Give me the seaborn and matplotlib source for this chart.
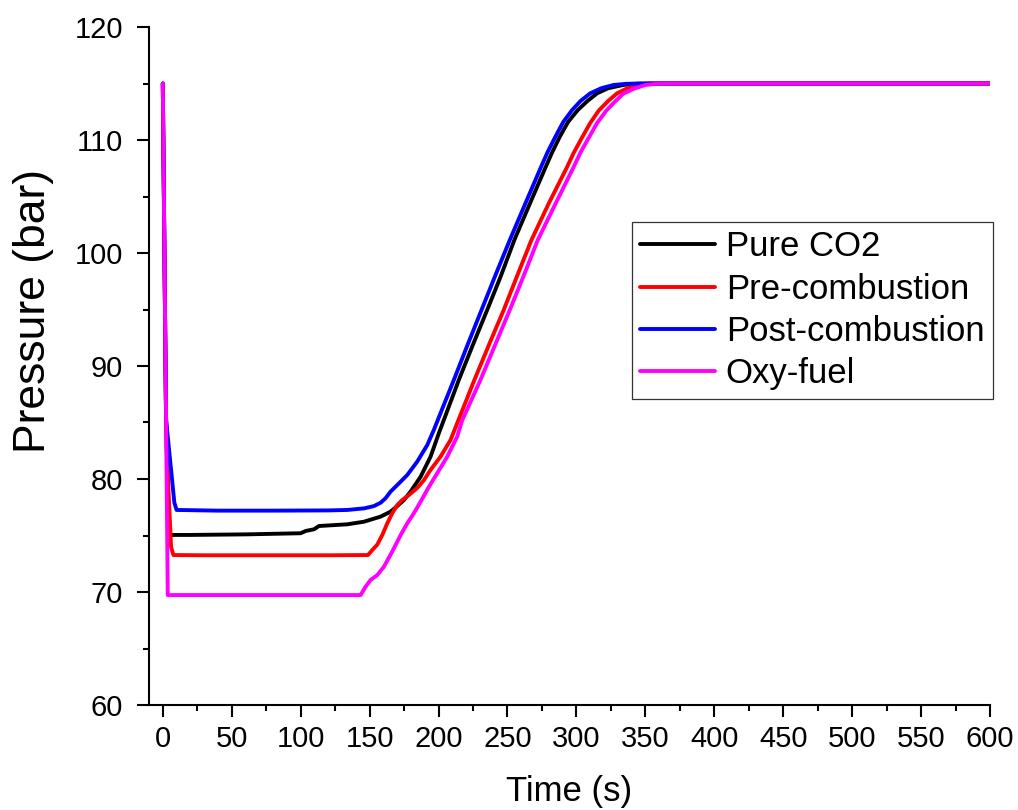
import matplotlib
matplotlib.use("Agg")
import matplotlib.pyplot as plt
from matplotlib.ticker import MultipleLocator
import seaborn as sns

# Pipeline pressure during blowdown and refill for four CO2 stream compositions
time_pure = [0, 2.3, 3.4, 4.1, 20, 60, 100, 103.6, 109.7, 113.3, 133.8, 145.9, 158, 165.2,
             170.1, 174.9, 179.7, 187, 194.2, 200.2, 207, 214.7, 225, 235.3, 245, 255, 266,
             276.8, 282, 288, 294, 301, 308, 315, 323, 334, 343, 352, 365, 400, 500, 600]
p_pure = [115, 86, 80, 75.05, 75.05, 75.1, 75.2, 75.4, 75.55, 75.84, 75.99, 76.22, 76.67, 77.11,
          77.61, 78.14, 78.88, 80.2, 81.97, 84.04, 86.25, 88.76, 91.9, 94.96, 97.9, 101.15, 104.3,
          107.35, 108.8, 110.3, 111.6, 112.65, 113.45, 114.13, 114.58, 114.87, 114.97, 115.0,
          115.0, 115.0, 115.0, 115.0]

time_pre = [0, 2.3, 2.9, 6.0, 7.7, 30, 80, 120, 148.8, 151.9, 155.6, 159.2, 162.8, 166.4, 170.1,
            173.7, 178.5, 184.5, 189.4, 194.2, 201.4, 208.7, 217, 226, 237, 247.3, 257, 267.4,
            280, 292.8, 298, 304, 310, 316.2, 323, 329.5, 337, 344, 352, 362, 400, 500, 600]
p_pre = [115, 86, 82.3, 74.0, 73.27, 73.25, 73.25, 73.25, 73.27, 73.7, 74.2, 75.04, 76.07, 76.96, 77.7,
         78.14, 78.58, 79.2, 79.9, 80.8, 81.97, 83.45, 86.0, 88.76, 92.0, 94.96, 97.97, 101.15,
         104.4, 107.5, 108.85, 110.2, 111.5, 112.6, 113.45, 114.13, 114.58, 114.87, 114.97, 115.0,
         115.0, 115.0, 115.0]

time_post = [0, 2.4, 8.4, 10, 40, 80, 120, 133.8, 145.9, 153.1, 158, 161.6, 165.2, 170.1, 177.3,
             184.5, 191.8, 196.6, 203, 211.1, 221, 231.2, 241, 251.7, 262, 273.4, 279, 284.8,
             290.5, 296.9, 303, 310, 318, 327, 336, 345, 360, 400, 500, 600]
p_post = [115, 85.2, 77.9, 77.26, 77.2, 77.2, 77.22, 77.26, 77.4, 77.6, 77.9, 78.3, 78.88, 79.47, 80.35,
          81.53, 83.0, 84.34, 86.3, 88.76, 91.85, 94.96, 97.95, 101.15, 104.1, 107.35, 108.9, 110.3,
          111.6, 112.65, 113.45, 114.13, 114.58, 114.87, 114.97, 115.0, 115.0, 115.0, 115.0, 115.0]

time_oxy = [0, 2.4, 3.6, 30, 80, 120, 143.5, 147.1, 150.7, 155.6, 160.4, 166.4, 172.5, 177.3, 182.1,
            187, 193, 199, 206.3, 213.5, 217.2, 230.4, 241, 251.7, 262, 272, 285, 297.6, 303, 309,
            315, 321.7, 328, 334, 342, 350, 358, 368, 400, 500, 600]
p_oxy = [115, 85.2, 69.73, 69.73, 69.73, 69.73, 69.73, 70.47, 71.06, 71.5, 72.24, 73.57, 75.04, 76.07, 76.96,
         77.99, 79.3, 80.5, 81.97, 83.74, 85.2, 88.76, 91.85, 94.96, 98.05, 101.15, 104.4, 107.5, 108.9,
         110.2, 111.5, 112.6, 113.4, 114.1, 114.55, 114.87, 114.97, 115.0, 115.0, 115.0, 115.0]

series_names = ["Pure CO2", "Pre-combustion", "Post-combustion", "Oxy-fuel"]
series_colors = ["#000000", "#ff0000", "#0000ff", "#ff00ff"]

sns.set_style("ticks")
plt.rcParams["font.family"] = ["Liberation Sans", "DejaVu Sans"]
plt.rcParams["text.color"] = "black"
plt.rcParams["axes.labelcolor"] = "black"
plt.rcParams["xtick.color"] = "black"
plt.rcParams["ytick.color"] = "black"

fig = plt.figure(figsize=(10.18, 8.10), dpi=100)
ax = fig.add_axes([149 / 1018, 105 / 810, 841 / 1018, 678 / 810])

curves = [(time_pure, p_pure), (time_pre, p_pre), (time_post, p_post), (time_oxy, p_oxy)]
for (t, p), name, col in zip(curves, series_names, series_colors):
    sns.lineplot(x=t, y=p, ax=ax, color=col, linewidth=2.8, label=name,
                 estimator=None, sort=False)

ax.set_xlim(-10, 600)
ax.set_ylim(60, 120)
ax.xaxis.set_major_locator(MultipleLocator(50))
ax.xaxis.set_minor_locator(MultipleLocator(25))
ax.yaxis.set_major_locator(MultipleLocator(10))
ax.yaxis.set_minor_locator(MultipleLocator(5))

for side in ["top", "right"]:
    ax.spines[side].set_visible(False)
for side in ["left", "bottom"]:
    ax.spines[side].set_linewidth(1.5)
    ax.spines[side].set_color("black")

ax.tick_params(axis="both", which="major", length=8.6, width=1.5, color="black",
               labelcolor="black", labelsize=21, direction="out")
ax.tick_params(axis="both", which="minor", length=4.3, width=1.5, color="black",
               direction="out")
ax.tick_params(axis="x", which="major", pad=5.5)
ax.tick_params(axis="y", which="major", pad=10)

ax.set_xlabel("Time (s)", fontsize=25, labelpad=16, color="black")
ax.set_ylabel("Pressure (bar)", fontsize=32, color="black")
ax.yaxis.set_label_coords(-0.113, 0.581)

leg = ax.legend(loc="upper left", bbox_to_anchor=(0.5743, 0.7124), borderaxespad=0,
                fontsize=25, frameon=True, fancybox=False, framealpha=1,
                edgecolor="#333333", handlelength=2.14, handletextpad=0.32,
                labelspacing=0.27, borderpad=0.24)
leg.get_frame().set_linewidth(0.9)
for line in leg.get_lines():
    line.set_linewidth(2.8)
for txt in leg.get_texts():
    txt.set_color("black")

fig.savefig("out.png", dpi=100)
